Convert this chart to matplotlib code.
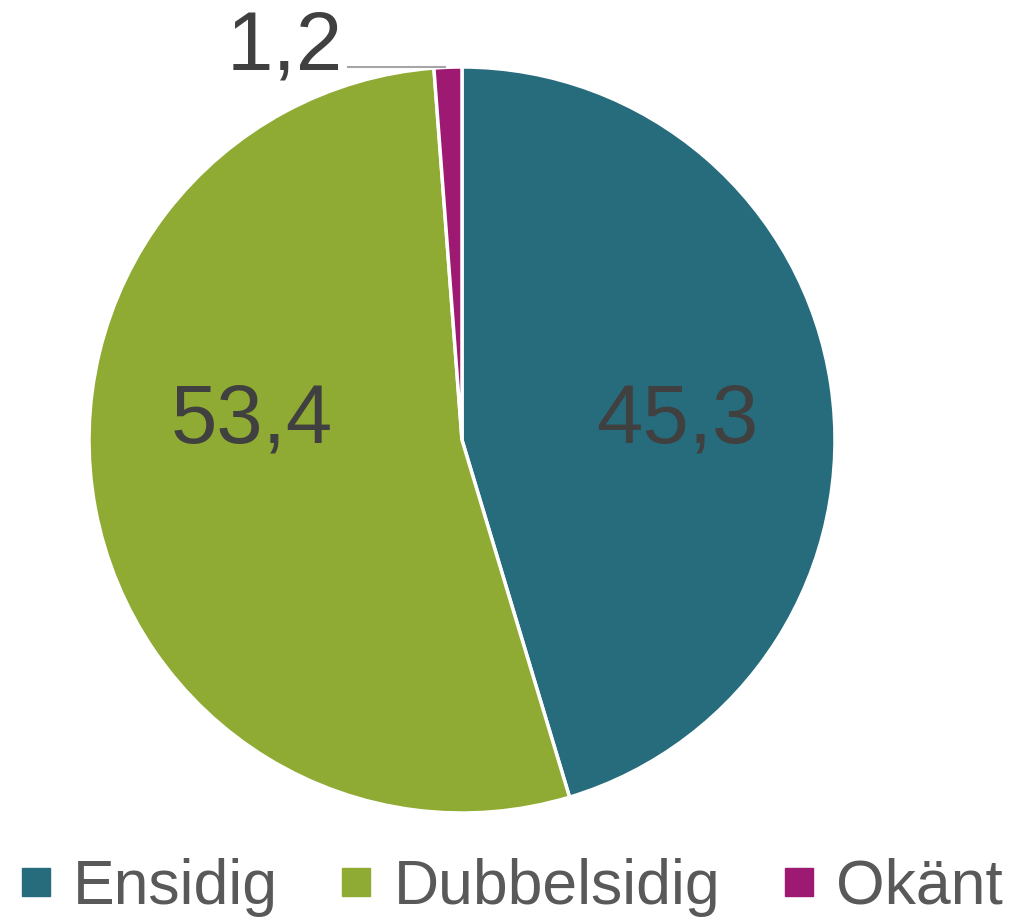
import matplotlib
matplotlib.use("Agg")
import matplotlib.pyplot as plt
from matplotlib.lines import Line2D

categories = ["Ensidig", "Dubbelsidig", "Okänt"]
values = [45.3, 53.4, 1.2]
value_labels = ["45,3", "53,4", "1,2"]
colors = ["#276C7C", "#90AB33", "#9E1A72"]

plt.rcParams['font.family'] = ['Liberation Sans', 'DejaVu Sans']

W, H = 1010, 918
fig = plt.figure(figsize=(W / 100, H / 100), dpi=100)
cx, cy, r = 462, 440, 373
ax = fig.add_axes([(cx - r) / W, (H - cy - r) / H, 2 * r / W, 2 * r / H])
ax.pie(values, colors=colors, startangle=90, counterclock=False, radius=1,
       wedgeprops=dict(edgecolor="white", linewidth=2.5))
ax.set_xlim(-1, 1)
ax.set_ylim(-1, 1)
ax.set_aspect("equal")
ax.axis("off")

label_pos = [(0.576, -0.008), (-0.564, -0.008), (-0.476, 0.992)]
for (x, y), t in zip(label_pos, value_labels):
    ax.text(x, y, t, ha="center", va="baseline", fontsize=60, color="#404040", clip_on=False)
ax.plot([-0.306, -0.046], [1.0, 1.0], color="#A6A6A6", lw=1.5, clip_on=False)

handles = [Line2D([], [], marker="s", linestyle="none", markersize=20,
                  markerfacecolor=c, markeredgecolor=c) for c in colors]
leg = fig.legend(handles, categories, loc="lower center", ncol=3,
                 bbox_to_anchor=(0.505, -0.06), frameon=False, fontsize=45,
                 handlelength=0.6, handletextpad=0.3, columnspacing=0.95,
                 labelcolor="#595959")
fig.savefig("out.png", dpi=100)
